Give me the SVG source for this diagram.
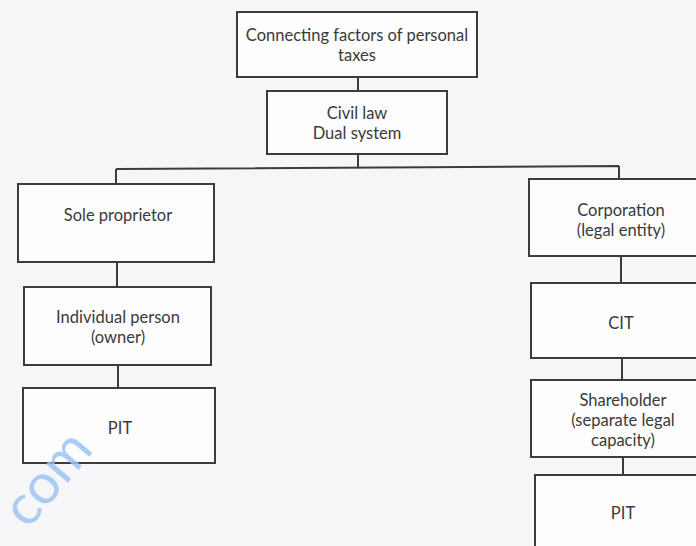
<svg xmlns="http://www.w3.org/2000/svg" width="696" height="546" viewBox="0 0 696 546">
<style>
.box{fill:#fdfdfd;stroke:#3c3c3c;stroke-width:2}
.t{font-family:Lato,"Open Sans",sans-serif;font-size:16.5px;fill:#3a3a3a;text-anchor:middle}
.c{fill:none;stroke:#3c3c3c;stroke-width:2}
</style>
<rect width="696" height="546" fill="#f6f6f9"/>
<g id="connectors">
<path class="c" d="M358 77V91M358 154V168M116 169L619 166M116 169V184M619 166V179M117 262V287M118 365V388M621 256V283M622 358V380M623 457V475"/>
</g>
<g id="n-top"><rect class="box" x="237" y="12" width="240" height="65"/><text class="t" x="357" y="41">Connecting factors of personal</text><text class="t" x="357" y="61">taxes</text></g>
<g id="n-civil"><rect class="box" x="267" y="91" width="180" height="63"/><text class="t" x="357" y="119">Civil law</text><text class="t" x="357" y="139">Dual system</text></g>
<g id="n-sole"><rect class="box" x="18" y="184" width="196" height="78"/><text class="t" x="118" y="221">Sole proprietor</text></g>
<g id="n-indiv"><rect class="box" x="24" y="287" width="187" height="78"/><text class="t" x="118" y="323">Individual person</text><text class="t" x="118" y="343">(owner)</text></g>
<g id="n-pit1"><rect class="box" x="23" y="388" width="192" height="75"/><text class="t" x="120" y="434">PIT</text></g>
<g id="n-corp"><rect class="box" x="529" y="179" width="180" height="77"/><text class="t" x="621" y="216">Corporation</text><text class="t" x="621" y="236">(legal entity)</text></g>
<g id="n-cit"><rect class="box" x="531" y="283" width="180" height="75"/><text class="t" x="621" y="329">CIT</text></g>
<g id="n-share"><rect class="box" x="531" y="380" width="180" height="77"/><text class="t" x="623" y="406">Shareholder</text><text class="t" x="623" y="426">(separate legal</text><text class="t" x="623" y="446">capacity)</text></g>
<g id="n-pit2"><rect class="box" x="535" y="475" width="180" height="80"/><text class="t" x="623" y="519">PIT</text></g>
<text x="28" y="530" transform="rotate(-50 28 530)" font-family="Lato,sans-serif" font-size="56" fill="#9fc4f2" opacity="0.85">com</text>
</svg>
